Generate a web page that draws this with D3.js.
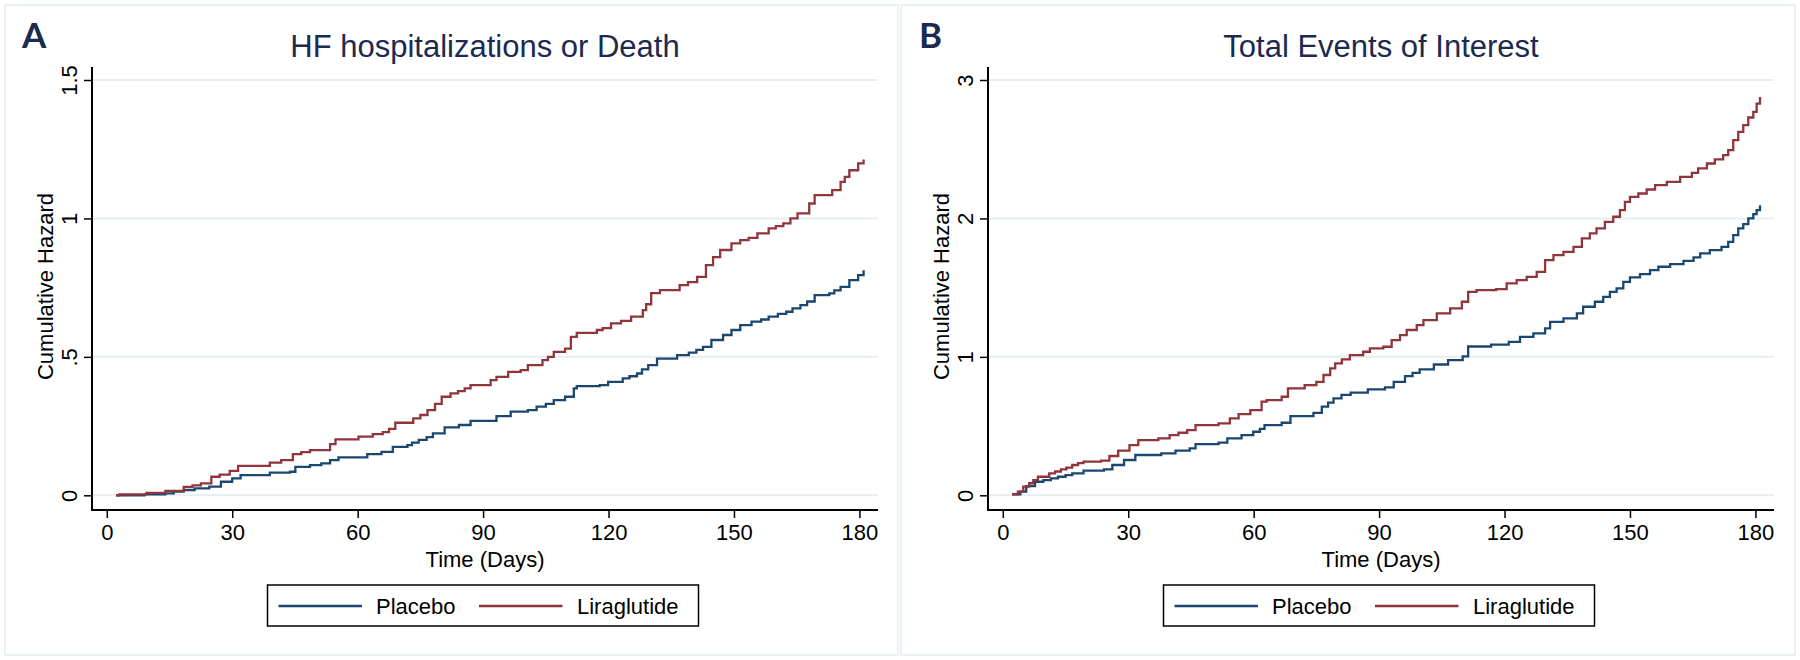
<!DOCTYPE html>
<html>
<head>
<meta charset="utf-8">
<script src="https://cdn.jsdelivr.net/npm/d3@7"></script>
<style>
  html, body { margin: 0; padding: 0; background: #ffffff; }
  svg { display: block; font-family: "Liberation Sans", Arial, sans-serif; }
</style>
</head>
<body>
<svg id="chart" width="1800" height="660"></svg>
<script>
// ---------- DATA ----------
const seriesNames = ["Placebo", "Liraglutide"];
const xTicks = [0, 30, 60, 90, 120, 150, 180];
const yTicksA = [0, 0.5, 1, 1.5];
const yTickLabelsA = ["0", ".5", "1", "1.5"];
const yTicksB = [0, 1, 2, 3];
const yTickLabelsB = ["0", "1", "2", "3"];

// Panel A: HF hospitalizations or Death  [day, cumulative hazard]
const hfPlacebo = [[2.2,0],[9,0.003],[14,0.007],[16,0.013],[18.4,0.019],[21,0.025],[24.5,0.031],[27.3,0.049],[30,0.061],[32,0.073],[39,0.082],[43.8,0.085],[45.1,0.103],[48.6,0.109],[51.3,0.115],[53.4,0.127],[55.4,0.137],[62.3,0.149],[65.7,0.157],[68.4,0.175],[71.9,0.181],[73,0.19],[74.6,0.2],[76.5,0.21],[78,0.224],[80.8,0.245],[84.2,0.254],[87,0.269],[93.2,0.286],[96.6,0.302],[100.7,0.308],[102.8,0.32],[105,0.33],[106.9,0.344],[109.6,0.356],[111.7,0.386],[112.4,0.394],[117.9,0.398],[119.9,0.41],[123.4,0.422],[125,0.43],[126.8,0.44],[128,0.455],[129.5,0.47],[131.6,0.494],[136.4,0.506],[139.2,0.515],[141,0.525],[142.6,0.536],[144.6,0.561],[147.4,0.579],[149.4,0.597],[151.5,0.615],[154.2,0.627],[156.5,0.635],[158.3,0.645],[160.5,0.655],[162.5,0.663],[164,0.675],[165.9,0.687],[167.5,0.7],[169.3,0.723],[172.8,0.729],[174,0.74],[175.5,0.753],[177.6,0.777],[179.7,0.795],[181,0.813]];
const hfLira = [[2.2,0],[3,0.003],[9.5,0.009],[14,0.016],[18.4,0.03],[20.5,0.036],[22.5,0.043],[25,0.067],[27,0.075],[29.4,0.088],[31.4,0.106],[39,0.118],[41.7,0.127],[44.5,0.149],[46.5,0.156],[48.6,0.163],[53.4,0.185],[54.7,0.202],[60.2,0.212],[63.6,0.221],[66,0.228],[67.5,0.24],[69,0.262],[73.3,0.278],[75,0.29],[76.7,0.308],[78.5,0.33],[80.1,0.356],[82.2,0.368],[84,0.376],[85.6,0.386],[87,0.398],[91.8,0.416],[93.2,0.428],[96,0.446],[99,0.452],[100.7,0.47],[104.2,0.488],[105.5,0.5],[106.9,0.518],[109.6,0.53],[111,0.572],[112.4,0.587],[117.2,0.597],[118.6,0.604],[120.6,0.621],[123,0.63],[125.4,0.645],[128.2,0.669],[129,0.69],[130.2,0.73],[132.3,0.741],[137,0.759],[139,0.77],[141.2,0.789],[143.3,0.831],[145,0.86],[146.7,0.886],[149.4,0.91],[151.5,0.922],[153.5,0.93],[155.6,0.946],[158.3,0.964],[160,0.972],[161.8,0.982],[163.5,1.0],[165.2,1.018],[168,1.054],[169.3,1.084],[173.5,1.102],[175.5,1.132],[176.5,1.15],[177.6,1.174],[179.7,1.199],[181,1.213]];

// Panel B: Total Events of Interest  [day, cumulative hazard]
const totPlacebo = [[2.2,0.007],[4.2,0.026],[5.6,0.067],[7.7,0.098],[9.7,0.11],[11.5,0.122],[13.2,0.134],[15,0.146],[16.6,0.159],[19.3,0.178],[24.2,0.188],[26.2,0.219],[29,0.255],[31.7,0.291],[37.9,0.303],[41.3,0.322],[44.7,0.339],[46.1,0.37],[51.6,0.38],[53.7,0.411],[57.1,0.435],[59.9,0.459],[61.5,0.48],[62.6,0.507],[66.7,0.524],[68.8,0.572],[74.3,0.596],[76.3,0.64],[77.8,0.67],[79.1,0.7],[81,0.725],[83.2,0.741],[87.3,0.765],[91.4,0.78],[93.5,0.82],[96.2,0.861],[98,0.885],[99.7,0.91],[103.1,0.945],[106.5,0.977],[110,1.003],[111.3,1.075],[116.8,1.088],[121,1.109],[123.7,1.145],[126.9,1.17],[129.7,1.206],[130.9,1.253],[134.1,1.278],[137.3,1.314],[138.8,1.362],[141.6,1.398],[143.6,1.434],[145.2,1.47],[146.8,1.495],[148.4,1.542],[150,1.574],[152.4,1.598],[154.8,1.627],[156.8,1.651],[159.6,1.67],[162.8,1.694],[165.2,1.718],[166.8,1.747],[169.1,1.771],[171.9,1.795],[173.5,1.831],[174.7,1.879],[175.9,1.928],[177.1,1.959],[178.3,2.0],[179.5,2.031],[180.3,2.06],[181.1,2.096]];
const totLira = [[2.2,0.007],[3.6,0.026],[4.9,0.062],[6.3,0.087],[7.3,0.11],[8.4,0.134],[11.1,0.159],[12.5,0.172],[13.9,0.188],[15.2,0.2],[16.6,0.219],[18,0.232],[19.3,0.243],[23.5,0.25],[25.5,0.284],[27.6,0.322],[30.3,0.363],[32.4,0.399],[37.2,0.411],[39.9,0.435],[42,0.452],[44.1,0.471],[46.1,0.507],[51.6,0.519],[54.3,0.556],[56.4,0.587],[59.2,0.616],[61.9,0.676],[63.1,0.688],[66.7,0.712],[68.2,0.772],[72.2,0.796],[75,0.82],[76.7,0.869],[78.3,0.917],[79.5,0.953],[81.1,0.982],[83,1.013],[86.2,1.037],[87.8,1.061],[91,1.073],[93,1.121],[95,1.157],[96.6,1.194],[99,1.229],[100.6,1.266],[103.8,1.314],[107,1.35],[109.8,1.398],[111.3,1.47],[113.3,1.482],[118,1.49],[120.5,1.531],[122.9,1.555],[125.3,1.578],[127.7,1.614],[129.7,1.699],[131.7,1.735],[134.1,1.759],[136.5,1.795],[138.5,1.856],[140.4,1.892],[142,1.928],[144,1.975],[146,2.012],[147.6,2.06],[148.8,2.12],[150,2.156],[152,2.18],[154,2.209],[156,2.24],[158.8,2.264],[162,2.3],[164.8,2.329],[166.3,2.361],[168.4,2.397],[170.3,2.426],[172.3,2.457],[173.5,2.493],[174.7,2.565],[175.9,2.625],[177.1,2.674],[178.3,2.729],[179.5,2.77],[180.3,2.83],[181.1,2.878]];

// ---------- STYLE ----------
const colors = ["#1a476f", "#90353b"];
const titleColor = "#1c2a50";
const gridColor = "#e6eef1";

const svg = d3.select("#chart");
svg.append("rect").attr("width", 1800).attr("height", 660).attr("fill", "#fff");

function panel(cfg) {
  const g = svg.append("g");
  // outer frame
  g.append("rect")
    .attr("x", cfg.frame[0]).attr("y", 5)
    .attr("width", cfg.frame[1] - cfg.frame[0]).attr("height", 650)
    .attr("fill", "none").attr("stroke", "#e3edf0").attr("stroke-width", 1.5);

  const x = d3.scaleLinear().domain([0, 180]).range([cfg.x0, cfg.x0 + 752.6]);
  const y = d3.scaleLinear().domain([0, cfg.yMax]).range([495.3, 80]);
  const left = cfg.x0 - 14.8, right = left + 786, top = 67, bottom = 510;

  // gridlines
  g.append("g").selectAll("line").data(cfg.yTicks).join("line")
    .attr("x1", left).attr("x2", right)
    .attr("y1", d => y(d)).attr("y2", d => y(d))
    .attr("stroke", gridColor).attr("stroke-width", 2);

  // x axis
  const xAxis = d3.axisBottom(x).tickValues(xTicks).tickSize(8).tickSizeOuter(0).tickPadding(6);
  const xg = g.append("g").attr("transform", `translate(0,${bottom})`).call(xAxis);
  xg.select(".domain").remove();
  xg.append("line").attr("x1", left).attr("x2", right).attr("y1", 0).attr("y2", 0)
    .attr("stroke", "#000").attr("stroke-width", 2);
  xg.selectAll(".tick line").attr("stroke", "#000").attr("stroke-width", 1.5);
  xg.selectAll(".tick text").attr("font-size", 22).attr("fill", "#000")
    .attr("font-family", '"Liberation Sans", Arial, sans-serif');

  // y axis
  const yAxis = d3.axisLeft(y).tickValues(cfg.yTicks)
    .tickFormat((d, i) => cfg.yLabels[i]).tickSize(8).tickSizeOuter(0).tickPadding(6);
  const yg = g.append("g").attr("transform", `translate(${left},0)`).call(yAxis);
  yg.select(".domain").remove();
  yg.append("line").attr("x1", 0).attr("x2", 0).attr("y1", top).attr("y2", bottom + 1)
    .attr("stroke", "#000").attr("stroke-width", 2);
  yg.selectAll(".tick line").attr("stroke", "#000").attr("stroke-width", 1.5);
  yg.selectAll(".tick text")
    .attr("font-size", 22).attr("fill", "#000")
    .attr("font-family", '"Liberation Sans", Arial, sans-serif')
    .attr("x", null).attr("dy", null)
    .attr("text-anchor", "middle")
    .attr("transform", "translate(-15,0) rotate(-90)");

  // axis titles
  g.append("text").attr("x", (left + right) / 2).attr("y", 567)
    .attr("text-anchor", "middle").attr("font-size", 22).attr("fill", "#000")
    .text("Time (Days)");
  g.append("text")
    .attr("transform", `translate(${left - 39},${(top + bottom) / 2 - 2}) rotate(-90)`)
    .attr("text-anchor", "middle").attr("font-size", 22).attr("fill", "#000")
    .text("Cumulative Hazard");

  // title
  g.append("text").attr("x", (left + right) / 2).attr("y", 57)
    .attr("text-anchor", "middle").attr("font-size", 31).attr("fill", titleColor)
    .text(cfg.title);
  // panel letter
  g.append("text").attr("x", cfg.letterX).attr("y", 48)
    .attr("font-family", "Lato, 'Open Sans', sans-serif").attr("font-weight", 700)
    .attr("font-size", 35).attr("fill", titleColor)
    .text(cfg.letter);

  // curves
  const line = d3.line().x(d => x(d[0])).y(d => y(d[1])).curve(d3.curveStepAfter);
  cfg.series.forEach((s, i) => {
    g.append("path").datum(s).attr("d", line)
      .attr("fill", "none").attr("stroke", colors[i]).attr("stroke-width", 2.3)
      .attr("stroke-linejoin", "miter");
  });

  // legend
  const lx = cfg.legendX, ly = 585, lw = 431, lh = 41;
  const lg = g.append("g");
  lg.append("rect").attr("x", lx).attr("y", ly).attr("width", lw).attr("height", lh)
    .attr("fill", "#fff").attr("stroke", "#000").attr("stroke-width", 1.5);
  const items = [
    { name: seriesNames[0], c: colors[0], l0: 11, t: 108.5 },
    { name: seriesNames[1], c: colors[1], l0: 211.5, t: 309.5 }
  ];
  items.forEach(it => {
    lg.append("line").attr("x1", lx + it.l0).attr("x2", lx + it.l0 + 83.5)
      .attr("y1", ly + 21).attr("y2", ly + 21)
      .attr("stroke", it.c).attr("stroke-width", 2.3);
    lg.append("text").attr("x", lx + it.t).attr("y", ly + 29)
      .attr("font-size", 22).attr("fill", "#000").text(it.name);
  });
}

panel({
  frame: [5, 898], x0: 106.8, yMax: 1.5, yTicks: yTicksA, yLabels: yTickLabelsA,
  title: "HF hospitalizations or Death", letter: "A", letterX: 22,
  series: [hfPlacebo, hfLira], legendX: 267.5
});
panel({
  frame: [901, 1795], x0: 1002.8, yMax: 3, yTicks: yTicksB, yLabels: yTickLabelsB,
  title: "Total Events of Interest", letter: "B", letterX: 919,
  series: [totPlacebo, totLira], legendX: 1163.5
});
</script>
</body>
</html>
